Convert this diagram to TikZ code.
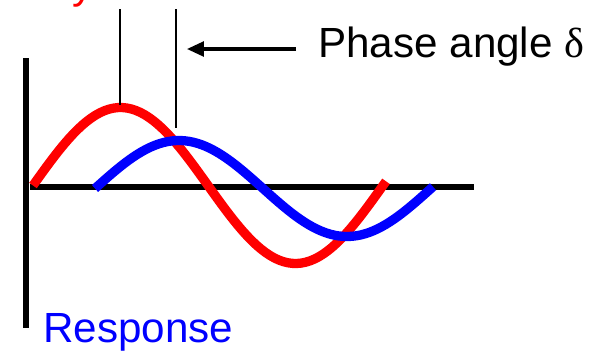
\documentclass[tikz,border=0pt]{standalone}
\usepackage{fontspec}
\setmainfont{Liberation Sans}
\newfontfamily\greekfont{Liberation Serif}
\usepackage{xcolor}
\definecolor{stressred}{HTML}{FF0000}
\definecolor{respblue}{HTML}{0000FF}
\usepackage{tikz}
\usetikzlibrary{arrows.meta,positioning}

\begin{document}
\begin{tikzpicture}[
  x=0.025cm, y=-0.025cm,
  font=\fontsize{30}{35}\selectfont,
  >={Triangle[length=12pt, width=10.5pt]},
  axis/.style={draw=black, line width=4.3pt},
  marker/.style={draw=black, line width=2.1pt},
  wave/.style={line width=6.6pt},
  lbl/.style={inner sep=0pt, anchor=base west},
]
\useasboundingbox (0,0) rectangle (601,351);

% Axes
\coordinate (vtop) at (26,58);
\coordinate (vbot) at (26,328);
\coordinate (hleft) at (30,187);
\coordinate (hright) at (474,187);
\draw[axis] (vtop) -- (vbot);
\draw[axis] (hleft) -- (hright);

% Waves
\draw[wave, stressred] plot[domain=33:386, samples=80] (\x, {185.5-78*sin((\x-33)/350*360)});
\draw[wave, respblue] plot[domain=95:433, samples=80] (\x, {188.5-48*sin((\x-95)/336*360)});

% Peak markers
\coordinate (peakstress) at (120,105);
\coordinate (peakresp) at (176,128);
\coordinate (topstress) at (120,9);
\coordinate (topresp) at (176,9);
\draw[marker] (topstress) -- (peakstress);
\draw[marker] (topresp) -- (peakresp);

% Labels
\node[lbl, stressred] (stress) at (42,-2) {Dynamic stress};
\node[lbl, respblue] (response) at (43,342) {Response};
\node[lbl] (phase) at (318,57) {Phase angle {\greekfont δ}};

\coordinate (arrtail) at (296,49);
\coordinate (arrtip) at (187,49);
\draw[->, line width=2.2pt] (arrtail) -- (arrtip);
\end{tikzpicture}
\end{document}
